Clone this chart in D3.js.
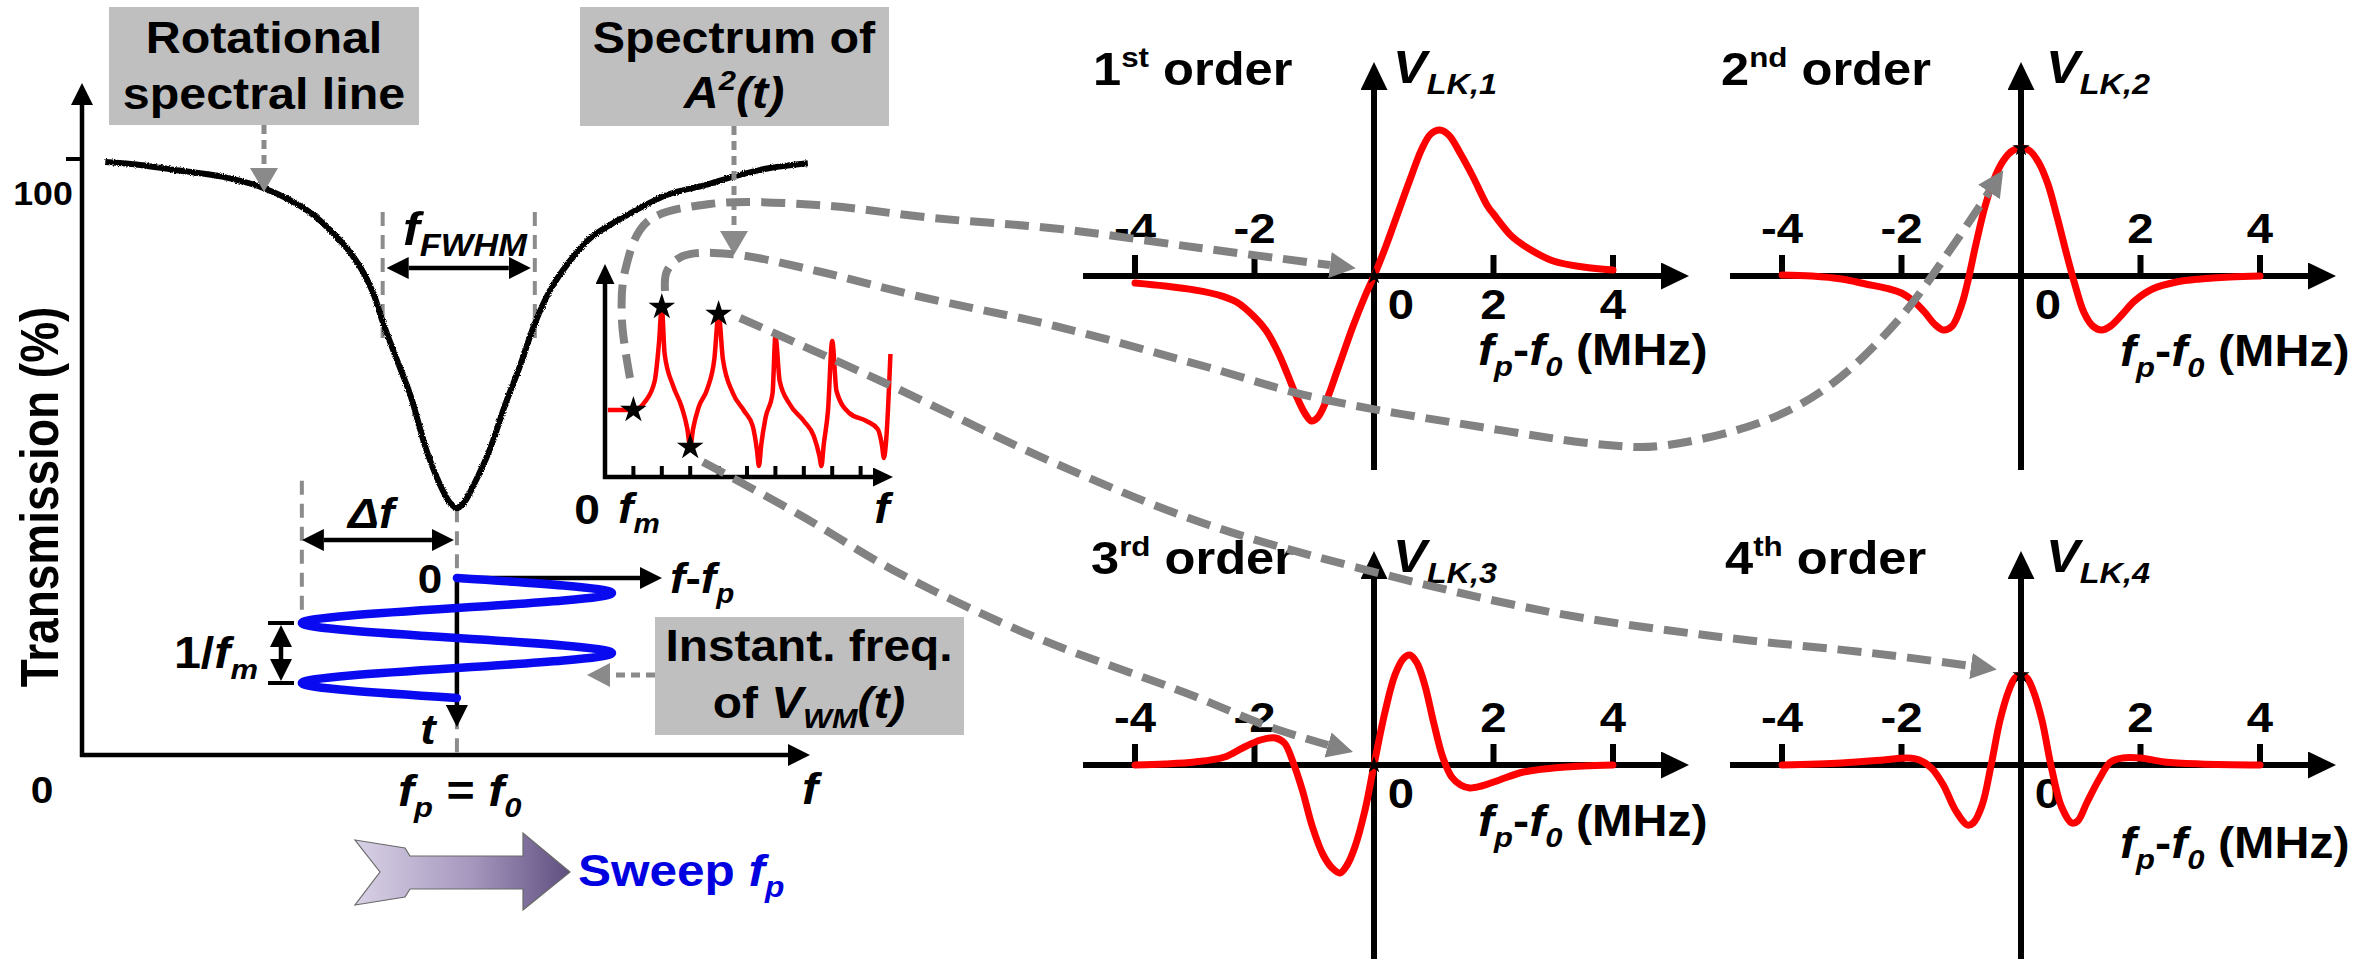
<!DOCTYPE html>
<html>
<head>
<meta charset="utf-8">
<script src="https://cdn.jsdelivr.net/npm/d3@7"></script>
<style>
  html, body { margin: 0; padding: 0; background: #fff; }
  svg { display: block; }
</style>
</head>
<body>
<script>
// ---------------- data ----------------
// Measured transmission of the rotational line (f in arbitrary axis units, T in %)
const specFreq  = [0.32, 0.80, 1.25, 1.94, 2.50, 3.09, 3.54, 3.82, 4.00, 4.13, 4.30, 4.51, 4.73, 4.92, 5.05, 5.15,
                   5.25, 5.38, 5.60, 5.81, 6.02, 6.21, 6.43, 6.69, 6.98, 7.39, 8.04, 8.56, 8.96, 9.45, 9.97];
const specTrans = [99.5, 99.0, 98.2, 97.0, 95.1, 91.4, 86.4, 81.9, 77.5, 72.7, 67.1, 60.4, 51.2, 45.3, 42.4, 41.4,
                   42.4, 45.3, 51.2, 58.7, 65.4, 72.1, 78.0, 82.7, 86.7, 89.9, 94.0, 95.6, 97.1, 98.5, 99.3];
const fwhmEdges = [4.13, 6.22];
const lineCenter = 5.15;       // f_p = f_0
const modDepth = 2.13;         // Δf
const fwhmLevels = [91.1, 71.3];

// Instantaneous frequency of V_WM(t): t in units of 1/f_m, deviation in units of Δf
const spiralT   = [0, 0.25, 0.5, 0.75, 1, 1.25, 1.5, 1.75, 2];
const spiralDev = [0, 1, 0, -1, 0, 1, 0, -1, 0];

// Spectrum of A^2(t): frequency in units of f_m, amplitude in arbitrary units
const harmF = [0.1, 0.7, 1, 1.4, 1.75, 1.9, 2, 2.1, 2.4, 2.7, 2.9, 3, 3.1, 3.3, 3.6, 3.85, 4, 4.15, 4.5, 4.9,
               5.2, 5.35, 5.42, 5.5, 5.65, 5.9, 6, 6.15, 6.5, 7, 7.35, 7.55, 7.62, 7.7, 7.85, 8, 8.15, 8.6, 9.2, 9.6,
               9.75, 9.82, 9.9, 10.05];
const harmA = [0.67, 0.67, 0.67, 0.75, 0.96, 1.34, 1.70, 1.23, 0.91, 0.70, 0.48, 0.30, 0.48, 0.70, 0.88, 1.18, 1.63, 1.18, 0.84, 0.66,
               0.51, 0.27, 0.11, 0.32, 0.59, 0.84, 1.41, 0.96, 0.73, 0.56, 0.41, 0.21, 0.11, 0.32, 0.66, 1.36, 0.86, 0.64, 0.56, 0.48,
               0.32, 0.19, 0.37, 1.23];
const harmStars = [1, 2, 3, 4];
const harmTicks = [1, 2, 3, 4, 5, 6, 7, 8, 9];

// Lock-in outputs V_LK,n versus f_p - f_0 (MHz), arbitrary amplitude units
const vlk1 = [[-4,-0.07],[-3.5,-0.1],[-3,-0.14],[-2.6,-0.19],[-2.3,-0.26],[-2,-0.41],[-1.8,-0.55],[-1.6,-0.77],[-1.45,-0.98],
              [-1.3,-1.2],[-1.15,-1.38],[-1.05,-1.45],[-0.95,-1.42],[-0.8,-1.25],[-0.6,-0.92],[-0.35,-0.5],[-0.15,-0.2],[0,0],
              [0.2,0.3],[0.4,0.63],[0.6,0.96],[0.8,1.27],[0.95,1.42],[1.1,1.46],[1.25,1.41],[1.45,1.22],[1.65,1.0],[1.9,0.7],
              [2,0.62],[2.3,0.4],[2.6,0.27],[3,0.15],[3.5,0.09],[4,0.06]];
const vlk2 = [[-4,0.01],[-3.5,0],[-3,-0.03],[-2.6,-0.08],[-2.2,-0.13],[-2,-0.17],[-1.8,-0.25],[-1.6,-0.37],[-1.45,-0.48],
              [-1.3,-0.54],[-1.15,-0.5],[-1.0,-0.3],[-0.9,-0.08],[-0.75,0.33],[-0.6,0.7],[-0.45,0.97],[-0.3,1.15],[-0.15,1.25],
              [0,1.28],[0.15,1.25],[0.3,1.13],[0.45,0.92],[0.6,0.6],[0.75,0.25],[0.9,-0.08],[1.05,-0.36],[1.2,-0.5],[1.35,-0.54],
              [1.5,-0.5],[1.7,-0.38],[1.9,-0.25],[2.2,-0.13],[2.6,-0.06],[3,-0.03],[3.5,-0.01],[4,0]];
const vlk3 = [[-4,0],[-3.5,0.01],[-3,0.03],[-2.5,0.08],[-2.2,0.17],[-1.9,0.25],[-1.65,0.27],[-1.5,0.22],[-1.35,0.02],
              [-1.2,-0.25],[-1.03,-0.62],[-0.85,-0.9],[-0.7,-1.03],[-0.57,-1.08],[-0.45,-1.0],[-0.32,-0.82],[-0.15,-0.45],[0,0],
              [0.18,0.52],[0.35,0.9],[0.5,1.07],[0.6,1.1],[0.72,1.02],[0.85,0.8],[1.0,0.42],[1.15,0.08],[1.3,-0.12],[1.45,-0.2],
              [1.6,-0.23],[1.8,-0.21],[2.1,-0.15],[2.5,-0.07],[3,-0.03],[3.5,-0.01],[4,0]];
const vlk4 = [[-4,0],[-3,0.02],[-2.3,0.05],[-1.9,0.07],[-1.7,0.05],[-1.5,-0.03],[-1.3,-0.2],[-1.1,-0.45],[-0.9,-0.6],
              [-0.8,-0.58],[-0.65,-0.4],[-0.5,0],[-0.35,0.45],[-0.2,0.75],[-0.1,0.87],[0,0.9],[0.1,0.87],[0.2,0.75],[0.35,0.45],
              [0.5,0],[0.68,-0.42],[0.85,-0.58],[0.95,-0.56],[1.1,-0.38],[1.3,-0.15],[1.5,0.03],[1.7,0.07],[2,0.07],[2.4,0.03],
              [3,0.01],[4,0]];
const detuneTicks = [-4, -2, 0, 2, 4];
const orderNames = ['1', '2', '3', '4'];
const orderSups = ['st', 'nd', 'rd', 'th'];

// ---------------- setup ----------------
const W = 2371, H = 961;
const FONT = "'Liberation Sans', Arial, Helvetica, sans-serif";
const SX = 1.1;
const RED = '#ff0000', BLUE = '#0a0af0', GRAY = '#828282', BOX = '#bfbfbf';

const svg = d3.select('body').append('svg').attr('width', W).attr('height', H).attr('viewBox', `0 0 ${W} ${H}`);
svg.append('rect').attr('width', W).attr('height', H).attr('fill', '#fff');
const defs = svg.append('defs');

// slight roughness for the measured trace
const rough = defs.append('filter').attr('id', 'rough').attr('x', '-2%').attr('y', '-5%').attr('width', '104%').attr('height', '110%');
rough.append('feTurbulence').attr('type', 'fractalNoise').attr('baseFrequency', 0.9).attr('numOctaves', 1).attr('seed', 3).attr('result', 'n');
rough.append('feDisplacementMap').attr('in', 'SourceGraphic').attr('in2', 'n').attr('scale', 3.5)
  .attr('xChannelSelector', 'R').attr('yChannelSelector', 'G');

function marker(id, len, wid, color) {
  defs.append('marker').attr('id', id).attr('markerUnits', 'userSpaceOnUse')
    .attr('viewBox', `0 ${-wid / 2} ${len} ${wid}`).attr('refX', 0).attr('refY', 0)
    .attr('markerWidth', len).attr('markerHeight', wid).attr('orient', 'auto-start-reverse')
    .append('path').attr('d', `M0,${-wid / 2}L${len},0L0,${wid / 2}Z`).attr('fill', color);
}
const MK = {
  ls: { id: 'mkLeft', len: 22, wid: 22, color: '#000' },
  rp: { id: 'mkPanel', len: 28, wid: 27, color: '#000' },
  ins: { id: 'mkInset', len: 20, wid: 19, color: '#000' },
  con: { id: 'mkConn', len: 26, wid: 26, color: GRAY },
  dot: { id: 'mkDot', len: 24, wid: 28, color: '#8a8a8a' },
  dotS: { id: 'mkDotS', len: 23, wid: 24, color: '#8a8a8a' }
};
Object.values(MK).forEach(m => marker(m.id, m.len, m.wid, m.color));

// straight arrow whose tip(s) land on the given points
function arrow(g, x1, y1, x2, y2, o) {
  const m = o.mk, dx = x2 - x1, dy = y2 - y1, d = Math.hypot(dx, dy), ux = dx / d, uy = dy / d;
  const ex = x2 - ux * m.len, ey = y2 - uy * m.len;
  const sx = o.both ? x1 + ux * m.len : x1, sy = o.both ? y1 + uy * m.len : y1;
  const p = g.append('line').attr('x1', sx).attr('y1', sy).attr('x2', ex).attr('y2', ey)
    .attr('stroke', o.stroke || '#000').attr('stroke-width', o.width || 4)
    .attr('marker-end', `url(#${m.id})`);
  if (o.both) p.attr('marker-start', `url(#${m.id})`);
  if (o.dash) p.attr('stroke-dasharray', o.dash);
  return p;
}

function seg(g, x1, y1, x2, y2, stroke, width, dash) {
  const l = g.append('line').attr('x1', x1).attr('y1', y1).attr('x2', x2).attr('y2', y2)
    .attr('stroke', stroke).attr('stroke-width', width);
  if (dash) l.attr('stroke-dasharray', dash);
  return l;
}

// bold text with italic / sub / superscript pieces
function rich(parent, x, y, parts, o = {}) {
  const size = o.size || 44;
  const g = parent.append('g')
    .attr('transform', `translate(${x},${y}) scale(${o.sx || SX},1)${o.rot ? ` rotate(${o.rot})` : ''}`);
  const t = g.append('text').attr('text-anchor', o.anchor || 'start')
    .attr('font-family', FONT).attr('font-size', size).attr('font-weight', 'bold')
    .attr('fill', o.fill || '#000');
  let cur = 0;
  parts.forEach(p => {
    const s = typeof p === 'string' ? { t: p } : p;
    const shift = s.sub ? size * 0.24 : s.sup ? -size * 0.4 : 0;
    const ts = t.append('tspan').text(s.t).attr('dy', shift - cur);
    cur = shift;
    if (s.i) ts.attr('font-style', 'italic');
    if (s.sub || s.sup) ts.attr('font-size', size * (s.scale || 0.64));
  });
  return t;
}

// ---------------- left panel: spectral line ----------------
const left = svg.append('g');
const xL = d3.scaleLinear().domain([0, 10]).range([82, 810]);
const yL = d3.scaleLinear().domain([0, 100]).range([755, 159]);
const X0 = xL(0), Y0 = yL(0);

// label boxes
left.append('rect').attr('x', 109).attr('y', 7).attr('width', 310).attr('height', 118).attr('fill', BOX);
left.append('rect').attr('x', 580).attr('y', 7).attr('width', 309).attr('height', 119).attr('fill', BOX);
left.append('rect').attr('x', 655).attr('y', 617).attr('width', 309).attr('height', 118).attr('fill', BOX);
rich(left, 264, 53, ['Rotational'], { anchor: 'middle' });
rich(left, 264, 109, ['spectral line'], { anchor: 'middle' });
rich(left, 734, 53, ['Spectrum of'], { anchor: 'middle' });
rich(left, 734, 108, [{ t: 'A', i: true }, { t: '2', sup: true, i: true }, { t: '(t)', i: true }], { anchor: 'middle' });
rich(left, 809, 661, ['Instant. freq.'], { anchor: 'middle', size: 43.5 });
rich(left, 809, 718, ['of ', { t: 'V', i: true }, { t: 'WM', sub: true, i: true }, { t: '(t)', i: true }], { anchor: 'middle', size: 43.5 });

// dashed guide lines
const guide = { stroke: '#8c8c8c', w: 4, dash: '14,9' };
fwhmEdges.forEach(f => seg(left, xL(f), yL(fwhmLevels[0]), xL(f), yL(fwhmLevels[1]) + 8, guide.stroke, guide.w, guide.dash));
const minT = d3.min(specTrans);
seg(left, xL(lineCenter - modDepth), yL(46), xL(lineCenter - modDepth), 620, guide.stroke, guide.w, guide.dash);
seg(left, xL(lineCenter), yL(minT), xL(lineCenter), Y0, guide.stroke, guide.w, guide.dash);

// axes
arrow(left, X0, Y0 + 2, X0, 83, { mk: MK.ls, width: 4.5 });
arrow(left, X0 - 2, Y0, xL(10), Y0, { mk: MK.ls, width: 4.5 });
seg(left, 66, yL(100), X0, yL(100), '#000', 4);
rich(left, 43, 205, ['100'], { anchor: 'middle', size: 34, sx: 1.05 });
rich(left, 42, 803, ['0'], { anchor: 'middle', size: 37 });
rich(left, 58, 497, ['Transmission (%)'], { anchor: 'middle', size: 46, rot: -90, sx: 1.16 });
rich(left, xL(10), 804, [{ t: 'f', i: true }], { anchor: 'middle' });
rich(left, 398, 806, [{ t: 'f', i: true }, { t: 'p', sub: true, i: true }, ' = ', { t: 'f', i: true }, { t: '0', sub: true, i: true }]);

// transmission curve
const specPts = specFreq.map((f, i) => [f, specTrans[i]]);
left.append('path').datum(specPts)
  .attr('d', d3.line().x(d => xL(d[0])).y(d => yL(d[1])).curve(d3.curveCatmullRom.alpha(0.5)))
  .attr('fill', 'none').attr('stroke', '#000').attr('stroke-width', 6).attr('stroke-linejoin', 'round')
  .attr('filter', 'url(#rough)');

// FWHM and Δf annotations
const fwhmY = 268;
arrow(left, xL(fwhmEdges[0]) + 4, fwhmY, xL(fwhmEdges[1]) - 4, fwhmY, { mk: MK.ls, width: 4.5, both: true });
rich(left, 403, 245, [{ t: 'f', i: true, }, { t: 'FWHM', sub: true, i: true, scale: 0.68 }], { size: 46 });
arrow(left, xL(lineCenter - modDepth), 540, xL(lineCenter) - 3, 540, { mk: MK.ls, width: 4.5, both: true });
rich(left, 348, 528, [{ t: 'Δf', i: true }], { size: 42 });

// instantaneous frequency sweep of V_WM(t)
const tS = d3.scaleLinear().domain([0, 2]).range([578, 698]);
const cx = xL(lineCenter);
arrow(left, cx, tS(0), 662, tS(0), { mk: MK.ls, width: 4.5 });
arrow(left, cx, tS(0), cx, 727, { mk: MK.ls, width: 4.5 });
left.append('path').datum(spiralT.map((t, i) => [spiralDev[i], t]))
  .attr('d', d3.line().x(d => xL(lineCenter + d[0] * modDepth)).y(d => tS(d[1])).curve(d3.curveNatural))
  .attr('fill', 'none').attr('stroke', BLUE).attr('stroke-width', 8.5).attr('stroke-linecap', 'round');
rich(left, 430, 593, ['0'], { anchor: 'middle', size: 40 });
rich(left, 670, 593, [{ t: 'f', i: true }, '-', { t: 'f', i: true }, { t: 'p', sub: true, i: true }], { size: 42 });
rich(left, 428, 744, [{ t: 't', i: true }], { anchor: 'middle', size: 42 });
// 1/f_m period marker
const pmX = 281, pTop = tS(0.75), pBot = tS(1.75);
arrow(left, pmX, pTop + 2, pmX, pBot - 2, { mk: MK.ls, width: 4.5, both: true });
seg(left, 268, pTop, 294, pTop, '#000', 4);
seg(left, 268, pBot, 294, pBot, '#000', 4);
rich(left, 258, 668, ['1/', { t: 'f', i: true }, { t: 'm', sub: true, i: true }], { anchor: 'end' });

// dotted pointers from the label boxes
arrow(left, 264, 125, 264, 192, { mk: MK.dot, width: 5, stroke: '#8a8a8a', dash: '9,6' });
arrow(left, 734, 126, 734, 255, { mk: MK.dot, width: 5, stroke: '#8a8a8a', dash: '9,6' });
arrow(left, 655, 675, 587, 675, { mk: MK.dotS, width: 5, stroke: '#8a8a8a', dash: '9,6' });

// sweep arrow
const grad = defs.append('linearGradient').attr('id', 'sweepGrad').attr('x1', 0).attr('x2', 1).attr('y1', 0).attr('y2', 0);
grad.append('stop').attr('offset', '0%').attr('stop-color', '#d9d2e6');
grad.append('stop').attr('offset', '55%').attr('stop-color', '#a596bd');
grad.append('stop').attr('offset', '100%').attr('stop-color', '#5f4f80');
const sweepShape = [[355, 840], [405, 848], [410, 856], [523, 856], [523, 833], [570, 872], [523, 910], [523, 889],
                    [410, 889], [405, 897], [355, 905], [380, 872]];
left.append('path').attr('d', d3.line()(sweepShape) + 'Z').attr('fill', 'url(#sweepGrad)')
  .attr('stroke', '#6a6a6a').attr('stroke-width', 1.2);
rich(left, 578, 886, ['Sweep ', { t: 'f', i: true }, { t: 'p', sub: true, i: true }], { fill: '#0000e0', size: 45 });

// ---------------- inset: spectrum of A^2(t) ----------------
const inset = svg.append('g');
const xI = d3.scaleLinear().domain([0, 10.14]).range([605, 893]);
const yI = d3.scaleLinear().domain([0, 2.13]).range([477, 264]);
arrow(inset, xI(0), yI(0) + 2, xI(0), yI(2.13), { mk: MK.ins, width: 4.5 });
arrow(inset, xI(0) - 2, yI(0), xI(10.14), yI(0), { mk: MK.ins, width: 4.5 });
harmTicks.forEach(k => seg(inset, xI(k), yI(0), xI(k), yI(0) - 11, '#000', 4));
const harmPts = harmF.map((f, i) => [f, harmA[i]]);
inset.append('path').datum(harmPts)
  .attr('d', d3.line().x(d => xI(d[0])).y(d => yI(d[1])).curve(d3.curveMonotoneX))
  .attr('fill', 'none').attr('stroke', RED).attr('stroke-width', 4.5).attr('stroke-linejoin', 'round');
rich(inset, 587, 524, ['0'], { anchor: 'middle', size: 42 });
rich(inset, 618, 523, [{ t: 'f', i: true }, { t: 'm', sub: true, i: true }], { size: 42 });
rich(inset, 882, 523, [{ t: 'f', i: true }], { anchor: 'middle', size: 42 });

// ---------------- lock-in harmonic panels ----------------
const panelLayout = [
  { ox: 1374, oy: 276, data: vlk1, below: [0, 2, 4], tdx: -281, vdx: 19, adx: 104, ady: 89 },
  { ox: 2021, oy: 276, data: vlk2, below: [0], tdx: -300, vdx: 25, adx: 99, ady: 90 },
  { ox: 1374, oy: 765, data: vlk3, below: [0], tdx: -283, vdx: 19, adx: 104, ady: 71 },
  { ox: 2021, oy: 765, data: vlk4, below: [0], tdx: -296, vdx: 25, adx: 99, ady: 93 }
];
const panelScales = [];
panelLayout.forEach((p, i) => {
  const g = svg.append('g');
  const xP = d3.scaleLinear().domain([-4, 4]).range([p.ox - 239, p.ox + 239]);
  const yP = d3.scaleLinear().domain([-1.94, 2.14]).range([p.oy + 194, p.oy - 214]);
  panelScales.push({ xP, yP });
  // axes
  arrow(g, xP(-4.87), yP(0), p.ox + 315, yP(0), { mk: MK.rp, width: 6 });
  arrow(g, xP(0), yP(-1.94), xP(0), yP(2.14), { mk: MK.rp, width: 6 });
  detuneTicks.filter(t => t !== 0).forEach(t => seg(g, xP(t), yP(0), xP(t), yP(0) - 21, '#000', 6));
  detuneTicks.forEach(t => {
    const below = p.below.includes(t);
    const x = t === 0 ? xP(0) + 27 : xP(t);
    rich(g, x, below ? p.oy + 43 : p.oy - 33, [String(t)], { anchor: 'middle', size: 43 });
  });
  rich(g, p.ox + p.tdx, p.oy - 191, [orderNames[i], { t: orderSups[i], sup: true, scale: 0.62 }, ' order'], { size: 46 });
  rich(g, p.ox + p.vdx, p.oy - 193, [{ t: 'V', i: true }, { t: 'LK,' + orderNames[i], sub: true, i: true }], { size: 46 });
  rich(g, p.ox + p.adx, p.oy + p.ady, [{ t: 'f', i: true }, { t: 'p', sub: true, i: true }, '-', { t: 'f', i: true },
    { t: '0', sub: true, i: true }, ' (MHz)'], { size: 44 });
  // response curve
  g.append('path').datum(p.data)
    .attr('d', d3.line().x(d => xP(d[0])).y(d => yP(d[1])).curve(d3.curveCatmullRom.alpha(0.5)))
    .attr('fill', 'none').attr('stroke', RED).attr('stroke-width', 7).attr('stroke-linecap', 'round');
});

// ---------------- connectors from the harmonics to the panels ----------------
const conn = svg.append('g');
const connRoutes = [
  [[630, 378], [622, 321], [625, 271], [647, 222], [710, 204], [817, 205], [933, 218], [1060, 229], [1200, 248], [1330, 265]],
  [[665, 291], [667, 271], [683, 256], [730, 254], [817, 271], [917, 296], [1055, 326], [1207, 367], [1313, 397],
   [1481, 427], [1607, 445], [1660, 446], [1767, 420], [1833, 383], [1900, 318], [1950, 250], [1989, 192]],
  [[703, 462], [800, 515], [893, 570], [1000, 622], [1060, 647], [1186, 693], [1270, 727], [1328, 745]],
  [[740, 318], [883, 382], [1050, 461], [1200, 522], [1355, 567], [1550, 612], [1720, 637], [1871, 653], [1971, 666]]
];
connRoutes.forEach(r => {
  conn.append('path').attr('d', d3.line().curve(d3.curveCatmullRom.alpha(0.5))(r))
    .attr('fill', 'none').attr('stroke', GRAY).attr('stroke-width', 8).attr('stroke-dasharray', '24,11')
    .attr('marker-end', `url(#${MK.con.id})`);
});

// ---------------- stars ----------------
const starBig = d3.symbol().type(d3.symbolStar).size(220);
const starSmall = d3.symbol().type(d3.symbolStar).size(90);
harmStars.forEach(k => {
  const a = harmA[harmF.indexOf(k)];
  svg.append('path').attr('d', starBig()).attr('transform', `translate(${xI(k)},${yI(a)})`).attr('fill', '#000');
});
panelLayout.forEach((p, i) => {
  const v = p.data.find(d => d[0] === 0)[1];
  const { xP, yP } = panelScales[i];
  svg.append('path').attr('d', starSmall()).attr('transform', `translate(${xP(0)},${yP(v)})`).attr('fill', '#000');
});
</script>
</body>
</html>
